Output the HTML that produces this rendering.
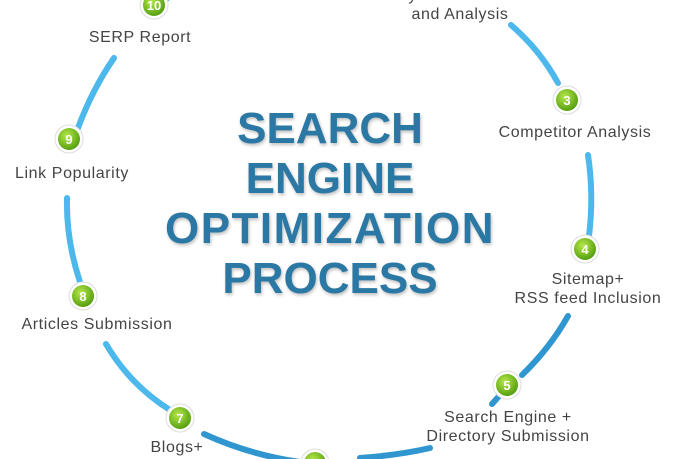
<!DOCTYPE html>
<html><head><meta charset="utf-8"><style>
body{margin:0;width:680px;height:459px;overflow:hidden;background:#fff;font-family:"Liberation Sans",sans-serif}
.t{position:absolute;left:80px;width:500px;text-align:center;top:104px;font-weight:bold;font-size:44px;line-height:50px;color:#2a78a3;text-shadow:1px 2px 3px rgba(0,0,0,.25)}
.l{position:absolute;font-size:16px;letter-spacing:0.6px;color:#444;white-space:nowrap;text-align:center;line-height:19px}
</style></head><body>
<svg width="680" height="459" style="position:absolute;left:0;top:0">
<defs><radialGradient id="g" cx=".4" cy=".35" r=".7"><stop offset="0" stop-color="#b6e84a"/><stop offset="1" stop-color="#4f9a0c"/></radialGradient></defs>
<g fill="none" stroke="#4db8ec" stroke-width="6" stroke-linecap="round">
<path d="M114 58 Q92 90 78 128"/>
<path d="M67 198 Q66 240 80 282"/>
<path d="M106 344 Q130 385 170 410"/>
<path d="M204 434 Q250 455 300 462" stroke="#2f96cf"/>
<path d="M360 458 Q400 455 430 448" stroke="#2f96cf"/>
<path d="M492 404 Q500 395 508 386" stroke="#2f96cf"/>
<path d="M522 375 Q550 348 568 316" stroke="#2f96cf"/>
<path d="M588 155 Q594 195 589 236"/>
<path d="M511 25 Q540 50 558 83"/>
<path d="M165 0 L170 -4"/>
</g>
<g font-family="Liberation Sans" font-weight="bold" font-size="13" fill="#fff" text-anchor="middle">
<g><circle cx="154" cy="5" r="14" fill="#fff" stroke="#ddd"/><circle cx="154" cy="5" r="11" fill="url(#g)"/><text x="154" y="10">10</text></g>
<g><circle cx="69" cy="139" r="14" fill="#fff" stroke="#ddd"/><circle cx="69" cy="139" r="11" fill="url(#g)"/><text x="69" y="144">9</text></g>
<g><circle cx="83" cy="296" r="14" fill="#fff" stroke="#ddd"/><circle cx="83" cy="296" r="11" fill="url(#g)"/><text x="83" y="301">8</text></g>
<g><circle cx="180" cy="418" r="14" fill="#fff" stroke="#ddd"/><circle cx="180" cy="418" r="11" fill="url(#g)"/><text x="180" y="423">7</text></g>
<g><circle cx="315" cy="463" r="14" fill="#fff" stroke="#ddd"/><circle cx="315" cy="463" r="11" fill="url(#g)"/></g>
<g><circle cx="507" cy="385" r="14" fill="#fff" stroke="#ddd"/><circle cx="507" cy="385" r="11" fill="url(#g)"/><text x="507" y="390">5</text></g>
<g><circle cx="585" cy="249" r="14" fill="#fff" stroke="#ddd"/><circle cx="585" cy="249" r="11" fill="url(#g)"/><text x="585" y="254">4</text></g>
<g><circle cx="567" cy="100" r="14" fill="#fff" stroke="#ddd"/><circle cx="567" cy="100" r="11" fill="url(#g)"/><text x="567" y="105">3</text></g>
</g>
</svg>
<div class="t">SEARCH<br>ENGINE<br><span style="letter-spacing:1.5px">OPTIMIZATION</span><br>PROCESS</div>
<div class="l" style="left:40px;width:200px;top:28px">SERP Report</div>
<div class="l" style="left:-28px;width:200px;top:164px">Link Popularity</div>
<div class="l" style="left:-3px;width:200px;top:315px">Articles Submission</div>
<div class="l" style="left:77px;width:200px;top:438px">Blogs+</div>
<div class="l" style="left:388px;width:240px;top:408px">Search Engine +<br>Directory Submission</div>
<div class="l" style="left:478px;width:220px;top:270px">Sitemap+<br>RSS feed Inclusion</div>
<div class="l" style="left:465px;width:220px;top:123px">Competitor Analysis</div>
<div class="l" style="left:350px;width:220px;top:-14px">Keyword Research<br>and Analysis</div>
</body></html>
